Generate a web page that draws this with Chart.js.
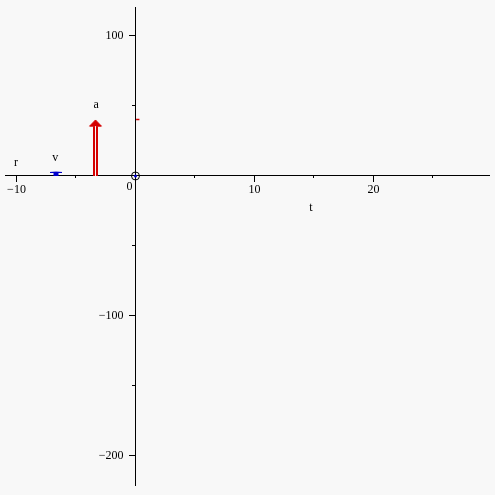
<!DOCTYPE html>
<html>
<head>
<meta charset="utf-8">
<script src="https://cdn.jsdelivr.net/npm/chart.js@4/dist/chart.umd.min.js"></script>
<style>
  html, body { margin: 0; padding: 0; background: #f8f8f8; }
  #wrap { width: 495px; height: 495px; }
</style>
</head>
<body>
<div id="wrap"><canvas id="plot" width="495" height="495"></canvas></div>
<script>
// axis ranges and ticks
const X_RANGE = [-10.966, 29.71];
const Y_RANGE = [-220.77, 120.57];
const X_TICKS = [-10, 10, 20];
const X_MINOR = [-5, 5, 15, 25];
const Y_TICKS = [100, -100, -200];
const Y_MINOR = [50, -50, -150];

// vectors drawn as arrows from the t axis
const ARROW_X = [-6.68, -3.36];
const ARROW_LEN = [2.8, 40];

// current value of a at t = 0
const A_NOW = 40.4;

// text labels
const LABEL_TEXT = ['r', 'v', 'a', 't', '0'];
const LABEL_X = [-10.05, -6.75, -3.3, 14.75, -0.5];
const LABEL_Y = [9.5, 13, 50.5, -22.5, -8];

const RED = '#d40000';
const BLUE = '#0000cc';
const BG = '#f8f8f8';

function minus(v) {
    return v < 0 ? '\u2212' + Math.abs(v) : String(v);
}

// arrow = double shaft + filled head, all in data units
// (Chart.js paints dataset 0 last, so the inner line comes first)
function arrowSets(x, len, color) {
    const head = len * 0.11;
    const half = 0.5;
    const base = len - head;
    return [
        {
            data: [{x: x, y: 0}, {x: x, y: base}],
            showLine: true, borderColor: BG, borderWidth: len > 10 ? 1 : 0,
            pointRadius: 0
        },
        {
            data: [{x: x, y: 0}, {x: x, y: base}],
            showLine: true, borderColor: color, borderWidth: 5,
            pointRadius: 0
        },
        {
            data: [{x: x - half, y: base}, {x: x, y: len}, {x: x + half, y: base}, {x: x - half, y: base}],
            showLine: true, borderColor: color, borderWidth: 1,
            backgroundColor: color, fill: 'shape',
            pointRadius: 0
        }
    ];
}

const datasets = [];
datasets.push({
    data: [{x: 0, y: 0}],
    pointRadius: 4, pointBackgroundColor: 'rgba(0,0,0,0)',
    pointBorderColor: '#000', pointBorderWidth: 1
});
datasets.push({
    data: [{x: 0, y: 0}],
    pointRadius: 1.5, pointBackgroundColor: BLUE, pointBorderWidth: 0
});
datasets.push({
    data: [{x: 0.05, y: A_NOW}, {x: 0.33, y: A_NOW}],
    showLine: true, borderColor: RED, borderWidth: 1.5, pointRadius: 0
});
ARROW_X.forEach((x, i) => {
    datasets.push(...arrowSets(x, ARROW_LEN[i], i === 0 ? BLUE : RED));
});

const labelPlugin = {
    id: 'labels',
    afterDatasetsDraw(chart) {
        const ctx = chart.ctx;
        const xs = chart.scales.x, ys = chart.scales.y;
        ctx.save();
        ctx.font = '12px "Liberation Serif", serif';
        ctx.fillStyle = '#000';
        ctx.textAlign = 'center';
        ctx.textBaseline = 'middle';
        LABEL_TEXT.forEach((t, i) => {
            ctx.fillText(t, xs.getPixelForValue(LABEL_X[i]), ys.getPixelForValue(LABEL_Y[i]));
        });
        ctx.restore();
    }
};

const tickFont = { family: '"Liberation Serif", serif', size: 12 };

new Chart(document.getElementById('plot'), {
    type: 'scatter',
    data: { datasets: datasets },
    options: {
        responsive: false,
        animation: false,
        layout: { padding: { left: 5, right: 6, top: 6, bottom: 10 } },
        plugins: { legend: { display: false }, tooltip: { enabled: false } },
        scales: {
            x: {
                type: 'linear', min: X_RANGE[0], max: X_RANGE[1],
                position: { y: 0 },
                afterBuildTicks: s => { s.ticks = X_TICKS.map(v => ({value: v})); },
                ticks: { callback: v => minus(v), color: '#000', font: tickFont, padding: 1, maxRotation: 0 },
                grid: { drawOnChartArea: false, tickLength: 6, tickColor: '#000' },
                border: { color: '#000', width: 1 }
            },
            y: {
                type: 'linear', min: Y_RANGE[0], max: Y_RANGE[1],
                position: { x: 0 },
                afterBuildTicks: s => { s.ticks = Y_TICKS.map(v => ({value: v})); },
                ticks: { callback: v => minus(v) + '\u2007\u2007', color: '#000', font: tickFont, padding: 0 },
                grid: { drawOnChartArea: false, tickLength: 6, tickColor: '#000' },
                border: { color: '#000', width: 1 }
            },
            x2: {
                type: 'linear', axis: 'x', min: X_RANGE[0], max: X_RANGE[1],
                position: { y: 0 },
                afterBuildTicks: s => { s.ticks = X_MINOR.map(v => ({value: v})); },
                ticks: { display: false },
                grid: { drawOnChartArea: false, tickLength: 2, tickColor: '#000' },
                border: { display: false }
            },
            y2: {
                type: 'linear', axis: 'y', min: Y_RANGE[0], max: Y_RANGE[1],
                position: { x: 0 },
                afterBuildTicks: s => { s.ticks = Y_MINOR.map(v => ({value: v})); },
                ticks: { display: false },
                grid: { drawOnChartArea: false, tickLength: 3, tickColor: '#000' },
                border: { display: false }
            }
        }
    },
    plugins: [labelPlugin]
});
</script>
</body>
</html>
